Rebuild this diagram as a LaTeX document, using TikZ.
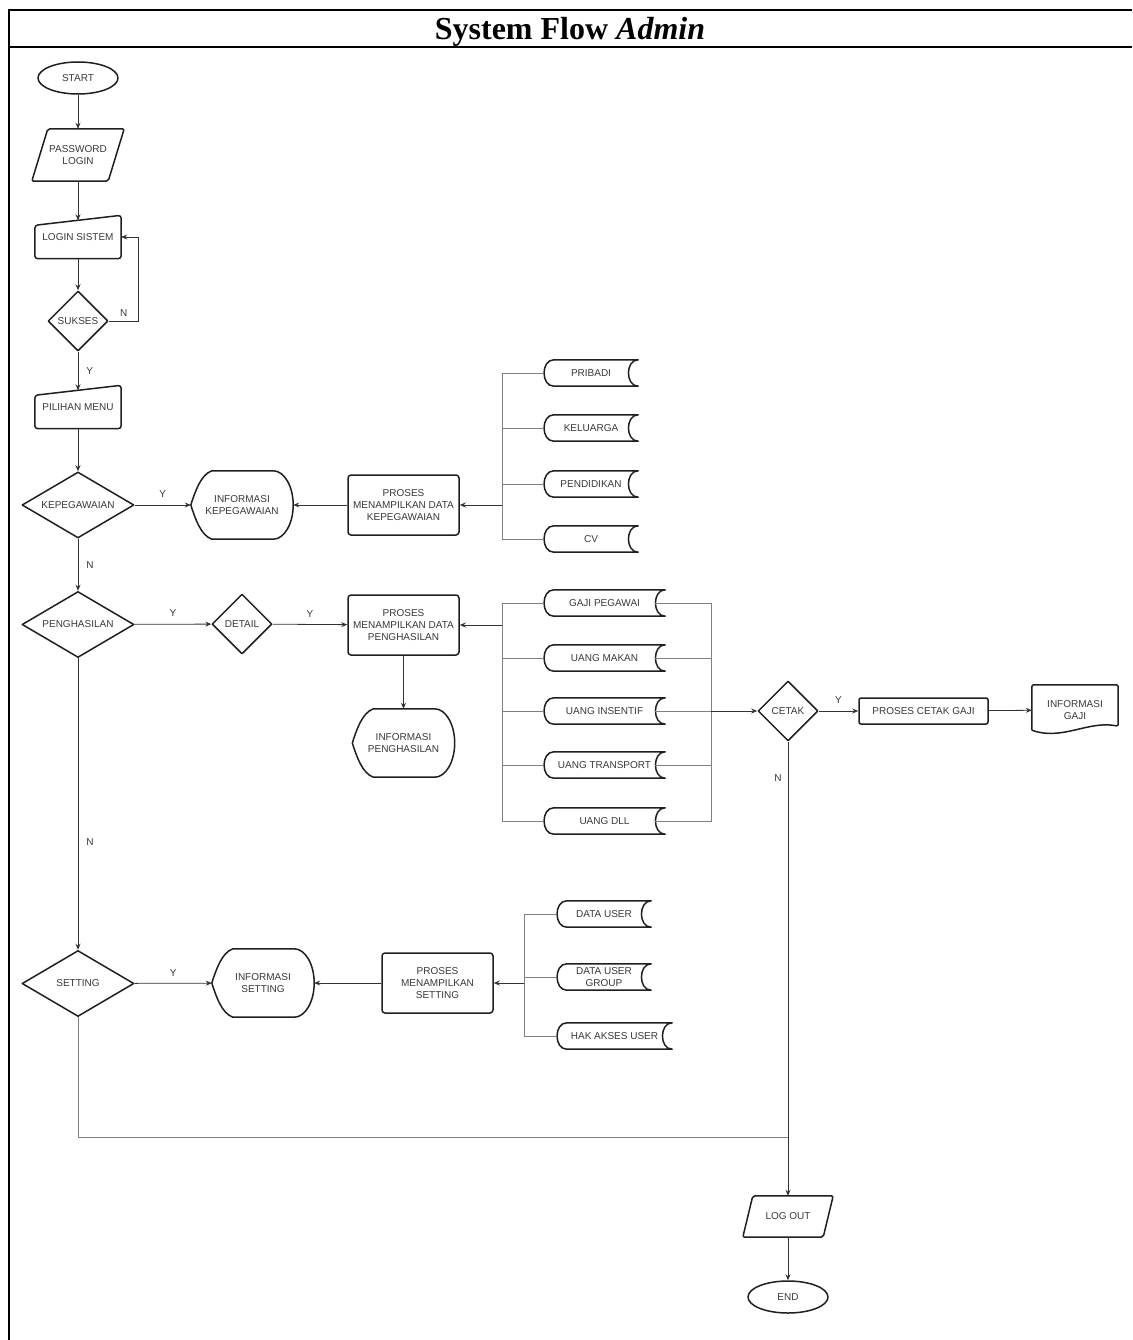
\documentclass[tikz,border=0pt]{standalone}
\usepackage{fontspec}
\setmainfont{Liberation Serif}
\setsansfont{Liberation Sans}
\usetikzlibrary{shapes.geometric,arrows.meta}

\begin{document}
\begin{tikzpicture}
  [x=1pt,y=-1pt,
   every node/.style={font=\sffamily\fontsize{10}{12}\selectfont,text=black!78,align=center,inner sep=0pt},
   shp/.style={draw=black!88,line width=1.5pt,line join=round},
   term/.style={shp,ellipse,minimum width=80pt,minimum height=32pt},
   dec/.style={shp,diamond,aspect=1.7,minimum width=112pt,minimum height=66pt},
   smalldec/.style={shp,diamond,minimum width=60pt,minimum height=60pt},
   proc/.style={shp,rectangle,rounded corners=3pt,minimum width=111pt,minimum height=60pt},
   minput/.style={minimum width=86pt,minimum height=43pt},
   disp/.style={minimum width=102pt,minimum height=68pt},
   store/.style={minimum height=26pt},
   arr/.style={draw=black!80,line width=0.8pt,-{Stealth[length=6pt,width=5pt]}},
   conn/.style={draw=black!80,line width=0.8pt},
   branch/.style={draw=black!50,line width=0.8pt}]
  \useasboundingbox (0,0) rectangle (1132,1340);

  % frame and title
  \draw[line width=2.2pt] (9,1340) -- (9,10) -- (1132,10);
  \draw[line width=2pt] (9,47) -- (1132,47);
  \node[font=\rmfamily\bfseries\fontsize{32}{36}\selectfont,text=black] (title) at (570,32) {System Flow \textit{Admin}};

  % main column
  \node[term] (start) at (78,78) {START};
  \node[minimum width=92pt,minimum height=52pt] (pass) at (78,155) {PASSWORD\\LOGIN};
  \node[minput] (login) at (78,237) {LOGIN SISTEM};
  \node[smalldec] (sukses) at (78,321) {SUKSES};
  \node[minput] (menu) at (78,407) {PILIHAN MENU};
  \node[dec] (kep) at (78,505) {KEPEGAWAIAN};
  \node[dec] (peng) at (78,624.5) {PENGHASILAN};
  \node[dec] (set) at (78,983.5) {SETTING};

  % kepegawaian
  \node[disp] (infk) at (242,505) {INFORMASI\\KEPEGAWAIAN};
  \node[proc] (pkep) at (403.5,505) {PROSES\\MENAMPILKAN DATA\\KEPEGAWAIAN};
  \foreach \n/\y/\t in {pribadi/373/PRIBADI,keluarga/428/KELUARGA,pendidikan/484/PENDIDIKAN,cv/539/CV}
    \node[store,minimum width=94pt] (\n) at (591,\y) {\t};

  % penghasilan
  \node[smalldec] (det) at (242,624) {DETAIL};
  \node[proc] (ppeng) at (403.5,625) {PROSES\\MENAMPILKAN DATA\\PENGHASILAN};
  \node[disp] (infp) at (403.5,743) {INFORMASI\\PENGHASILAN};
  \foreach \n/\y/\t in {gaji/603/GAJI PEGAWAI,makan/658/UANG MAKAN,insentif/711/UANG INSENTIF,transport/765/UANG TRANSPORT,dll/821/UANG DLL}
    \node[store,minimum width=121pt] (\n) at (604.5,\y) {\t};
  \node[smalldec] (cetak) at (788,711) {CETAK};
  \node[proc,rounded corners=2pt,minimum width=129pt,minimum height=26pt] (pcetak) at (923.5,711) {PROSES CETAK GAJI};
  \node[minimum width=86pt,minimum height=50pt] (infg) at (1075,710) {INFORMASI\\GAJI};

  % setting
  \node[disp] (infs) at (263,983) {INFORMASI\\SETTING};
  \node[proc] (pset) at (437.5,983) {PROSES\\MENAMPILKAN\\SETTING};
  \node[store,minimum width=94pt] (duser) at (604,914) {DATA USER};
  \node[store,minimum width=94pt] (dgroup) at (604,977) {DATA USER\\GROUP};
  \node[store,minimum width=115pt] (hak) at (614.5,1036) {HAK AKSES USER};

  % end
  \node[minimum width=90pt,minimum height=41pt] (logout) at (788,1216.5) {LOG OUT};
  \node[term] (end) at (788,1297) {END};

  % outlines of the drawn shapes
  \foreach \n/\s in {pass/16pt,logout/10pt}
    \draw[shp,rounded corners=2pt] ([xshift=\s]\n.north west) -- (\n.north east)
      -- ([xshift=-\s]\n.south east) -- (\n.south west) -- cycle;
  \foreach \n in {login,menu}
    \draw[shp,rounded corners=3pt] ([yshift=-10pt]\n.north west) -- (\n.north east)
      -- (\n.south east) -- (\n.south west) -- cycle;
  \foreach \n in {pribadi,keluarga,pendidikan,cv,gaji,makan,insentif,transport,dll,duser,dgroup,hak}
    \draw[shp] ([xshift=10pt]\n.north west) -- (\n.north east)
      .. controls ([xshift=-13pt]\n.north east) and ([xshift=-13pt]\n.south east) .. (\n.south east)
      -- ([xshift=10pt]\n.south west)
      .. controls ([xshift=-3pt]\n.south west) and ([xshift=-3pt]\n.north west) .. ([xshift=10pt]\n.north west) -- cycle;
  \foreach \n in {infk,infp,infs}
    \draw[shp] (\n.west) .. controls ([xshift=4.5pt,yshift=14pt]\n.west) and ([xshift=10pt,yshift=-4pt]\n.north west) .. ([xshift=21pt]\n.north west)
      -- ([xshift=-20pt]\n.north east) .. controls ([xshift=-9pt]\n.north east) and ([yshift=18.8pt]\n.east) .. (\n.east)
      .. controls ([yshift=-18.8pt]\n.east) and ([xshift=-9pt]\n.south east) .. ([xshift=-20pt]\n.south east)
      -- ([xshift=21pt]\n.south west) .. controls ([xshift=10pt,yshift=4pt]\n.south west) and ([xshift=4.5pt,yshift=-14pt]\n.west) .. (\n.west) -- cycle;
  \draw[shp,rounded corners=2pt] ([yshift=5pt]infg.south west) -- (infg.north west) -- (infg.north east) -- ([yshift=9pt]infg.south east)
    [sharp corners] .. controls ([xshift=-30pt,yshift=15pt]infg.south east) and ([xshift=30pt,yshift=-6pt]infg.south west) .. ([yshift=5pt]infg.south west);

  % connectors
  \draw[arr] (start) -- (pass);
  \draw[arr] (pass) -- ([yshift=-5pt]login.north);
  \draw[arr] (login) -- (sukses);
  \draw[arr] (sukses.east) -- node[above=4pt]{N} ++(30,0) |- (login.east);
  \draw[arr] (sukses) -- node[right=8pt]{Y} ([yshift=-5pt]menu.north);
  \draw[arr] (menu) -- (kep);
  \draw[arr] (kep) -- node[above=7pt]{Y} (infk);
  \draw[arr] (pkep) -- (infk);
  \draw[arr] (kep) -- node[right=8pt]{N} (peng);
  \draw[arr] (peng) -- node[above=7pt]{Y} (det);
  \draw[arr] (det) -- node[above=7pt]{Y} (ppeng);
  \draw[arr] (ppeng) -- (infp);
  \draw[arr] (peng) -- node[right=8pt,pos=.63]{N} (set);
  \draw[arr] (set) -- node[above=6pt]{Y} (infs);
  \draw[arr] (pset) -- (infs);
  \draw[arr] (cetak) -- node[above=7pt]{Y} (pcetak);
  \draw[arr] (pcetak) -- (infg);
  \draw[arr] (cetak) -- node[left=6pt,pos=.08]{N} (logout);
  \draw[arr] (logout) -- (end);

  % data buses
  \coordinate (kbus) at (502,505);
  \coordinate (gbus) at (502,625);
  \coordinate (cbus) at (711,711);
  \coordinate (sbus) at (524,983);
  \coordinate (join) at (788,1137);
  \foreach \n in {pribadi,keluarga,pendidikan,cv}
    \draw[branch] (\n.west) -| (kbus);
  \foreach \n in {gaji,makan,insentif,transport,dll} {
    \draw[branch] (\n.west) -| (gbus);
    \draw[branch] ([xshift=-10pt]\n.east) -| (cbus);
  }
  \foreach \n in {duser,dgroup,hak}
    \draw[branch] (\n.west) -| (sbus);
  \draw[arr] (kbus) -- (pkep);
  \draw[arr] (gbus) -- (ppeng);
  \draw[arr] (cbus) -- (cetak);
  \draw[arr] (sbus) -- (pset);
  \draw[branch] (set) |- (join);
\end{tikzpicture}
\end{document}
